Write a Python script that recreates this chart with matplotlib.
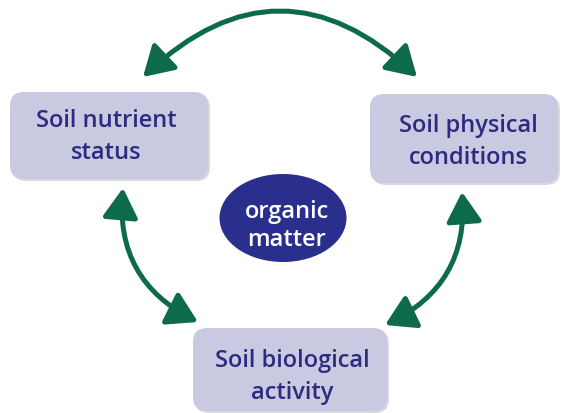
import matplotlib.pyplot as plt
from matplotlib.patches import FancyBboxPatch, Ellipse, FancyArrowPatch

labels = ['Soil nutrient\nstatus', 'Soil physical\nconditions', 'Soil biological\nactivity']
centre_label = 'organic\nmatter'

W, H = 561, 413
box_color = '#c9c9e1'
text_color = '#2b2b80'
green = '#0d6b4b'
navy = '#2a2e8c'

fig = plt.figure(figsize=(W / 100, H / 100), dpi=100)
ax = fig.add_axes([0, 0, 1, 1])
ax.set_xlim(0, W)
ax.set_ylim(0, H)
ax.axis('off')

# boxes given as (x0, y0_top, x1, y1_bottom) in image pixels, text centre
boxes = [(10, 92, 208, 179), (370, 94, 558, 183), (193, 328, 387, 411)]
text_pos = [(106, 137), (468, 142), (292, 377)]

for (x0, y0, x1, y1), lab, (tx, ty) in zip(boxes, labels, text_pos):
    # soft shadow
    sh = FancyBboxPatch((x0 + 2, H - y1 - 2), x1 - x0, y1 - y0,
                        boxstyle='round,pad=0,rounding_size=14',
                        fc='#d8d8dc', ec='none', zorder=1)
    ax.add_patch(sh)
    b = FancyBboxPatch((x0, H - y1), x1 - x0, y1 - y0,
                       boxstyle='round,pad=0,rounding_size=14',
                       fc=box_color, ec='none', zorder=2)
    ax.add_patch(b)
    ax.text(tx, H - ty, lab, ha='center', va='center', color=text_color,
            fontsize=17, family='Open Sans', fontweight='semibold',
            linespacing=1.4, zorder=3)

ell = Ellipse((283, H - 218), 127, 88, fc=navy, ec='none', zorder=2)
ax.add_patch(ell)
ax.text(287, H - 226, centre_label, ha='center', va='center', color='white',
        fontsize=17, family='Open Sans', fontweight='semibold',
        linespacing=1.2, zorder=3)

# double headed curved arrows (start, end, curvature)
arrows = [((143, 77), (417, 77), -0.47),
          ((123, 188), (198, 322), 0.34),
          ((462, 192), (385, 325), -0.34)]
for (a, b, rad) in arrows:
    arr = FancyArrowPatch((a[0], H - a[1]), (b[0], H - b[1]),
                          connectionstyle='arc3,rad=%s' % rad,
                          arrowstyle='<|-|>,head_length=1.0,head_width=0.6',
                          mutation_scale=18, lw=3.6, color=green,
                          shrinkA=0, shrinkB=0, zorder=4)
    ax.add_patch(arr)

fig.savefig('out.png', dpi=100)
